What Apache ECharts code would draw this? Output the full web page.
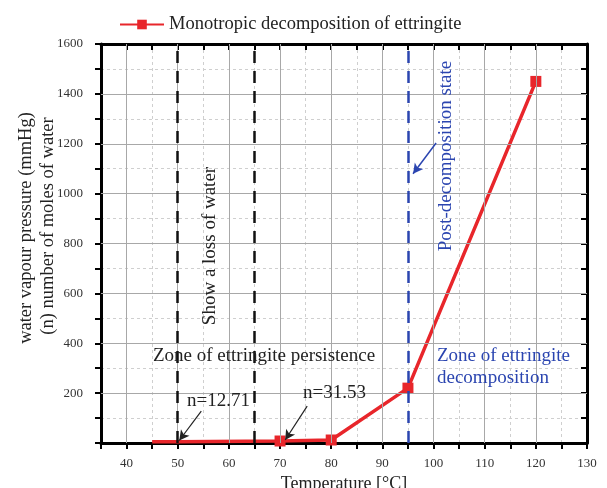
<!DOCTYPE html>
<html>
<head>
<meta charset="utf-8">
<script src="https://cdn.jsdelivr.net/npm/echarts@6/dist/echarts.min.js"></script>
<style>
  html, body { margin: 0; padding: 0; background: #fff; }
  #chart { width: 607px; height: 488px; }
</style>
</head>
<body>
<div id="chart"></div>
<script>
// Temperature (°C) and water vapour pressure (mmHg) of ettringite decomposition
const temperatures = [45, 50, 70, 80, 95, 120];
const pressures = [5, 5, 8, 12, 220, 1450];
const markerShown = [false, false, true, true, true, true];

// Axis tick values
const xMajorTicks = [40, 50, 60, 70, 80, 90, 100, 110, 120];
const yMajorTicks = [200, 400, 600, 800, 1000, 1200, 1400];

// Zone boundaries (°C)
const persistenceBounds = [50, 65];
const decompositionBound = 95;

// Annotation arrows: [from, to] in data units
const blackArrows = [
  [[54.6, 128], [50.3, 10]],
  [[75.3, 148], [71.0, 12]]
];
const blueArrows = [
  [[100.5, 1203], [96.0, 1080]]
];

const FONT = '"Liberation Serif", "Times New Roman", serif';
const BLUE = '#2b45b0';
const RED = '#e8262b';

const chart = echarts.init(document.getElementById('chart'));

const option = {
  animation: false,
  backgroundColor: '#fff',
  textStyle: { fontFamily: FONT },
  grid: { left: 101, right: 20, top: 44, bottom: 45, outerBoundsMode: 'none', containLabel: false },
  legend: {
    data: ['Monotropic decomposition of ettringite'],
    left: 114, top: 10,
    itemWidth: 44, itemHeight: 12, itemGap: 4,
    textStyle: { fontFamily: FONT, fontSize: 18.5, color: '#222' }
  },
  xAxis: [{
    type: 'value', min: 35, max: 130, interval: 5,
    name: 'Temperature [°C]', nameLocation: 'middle', nameGap: 22,
    nameTextStyle: { fontFamily: FONT, fontSize: 18, color: '#222' },
    axisLine: { onZero: false, lineStyle: { color: '#000', width: 3 } },
    axisTick: { length: 6, lineStyle: { color: '#000', width: 2 } },
    axisLabel: {
      fontFamily: FONT, fontSize: 13, color: '#333', margin: 14,
      formatter: v => (v % 10 === 0 ? String(v) : '')
    },
    splitLine: { show: true, lineStyle: { color: '#cfcfcf', type: [3, 3], width: 1 } }
  }, {
    type: 'value', min: 35, max: 130, interval: 5, position: 'top',
    axisLine: { onZero: false, lineStyle: { color: '#000', width: 3 } },
    axisTick: { inside: true, length: 6, lineStyle: { color: '#000', width: 2 } },
    axisLabel: { show: false },
    splitLine: { show: false }
  }],
  yAxis: [{
    type: 'value', min: 0, max: 1600, interval: 100,
    axisLine: { onZero: false, lineStyle: { color: '#000', width: 3 } },
    axisTick: { length: 6, lineStyle: { color: '#000', width: 2 } },
    axisLabel: {
      fontFamily: FONT, fontSize: 13, color: '#333', margin: 18,
      formatter: v => (v % 200 === 0 && v > 0 ? String(v) : '')
    },
    splitLine: { show: true, lineStyle: { color: '#cfcfcf', type: [3, 3], width: 1 } }
  }, {
    type: 'value', min: 0, max: 1600, interval: 100, position: 'right',
    axisLine: { onZero: false, lineStyle: { color: '#000', width: 3 } },
    axisTick: { inside: true, length: 6, lineStyle: { color: '#000', width: 2 } },
    axisLabel: { show: false },
    splitLine: { show: false }
  }],
  series: [
    {
      // solid major grid lines
      name: 'grid', type: 'line', data: [], silent: true, z: 1,
      markLine: {
        silent: true, symbol: 'none', animation: false,
        label: { show: false },
        lineStyle: { color: '#a8a8a8', type: 'solid', width: 1 },
        data: xMajorTicks.map(v => ({ xAxis: v }))
          .concat(yMajorTicks.map(v => ({ yAxis: v })))
      }
    },
    {
      // zone boundaries
      name: 'zones', type: 'line', data: [], silent: true, z: 2,
      markLine: {
        silent: true, symbol: 'none', animation: false,
        label: { show: false },
        data: persistenceBounds.map(v => ({
          xAxis: v, lineStyle: { color: '#111', type: [12, 8], width: 2.5 }
        })).concat([{
          xAxis: decompositionBound, lineStyle: { color: BLUE, type: [12, 8], width: 2.5 }
        }])
      }
    },
    {
      name: 'Monotropic decomposition of ettringite',
      type: 'line', z: 4,
      data: temperatures.map((t, i) => ({
        value: [t, pressures[i]],
        symbol: markerShown[i] ? 'rect' : 'none'
      })),
      symbol: 'rect', symbolSize: 11,
      itemStyle: { color: RED },
      lineStyle: { color: RED, width: 3.5 }
    },
    {
      // annotation arrows
      name: 'arrows', type: 'line', data: [], silent: true, z: 5,
      markLine: {
        silent: true, animation: false,
        symbol: ['none', 'arrow'], symbolSize: [8, 10],
        label: { show: false },
        data: blackArrows.map(a => [
          { coord: a[0], lineStyle: { color: '#222', type: 'solid', width: 1.2 } },
          { coord: a[1] }
        ]).concat(blueArrows.map(a => [
          { coord: a[0], lineStyle: { color: BLUE, type: 'solid', width: 1.5 } },
          { coord: a[1] }
        ]))
      }
    }
  ]
};

chart.setOption(option);

// text annotations
function txt(str, x, y, opts) {
  return {
    type: 'text', z: 10,
    x: x, y: y,
    style: Object.assign({
      text: str, fontFamily: FONT, fontSize: 19, fill: '#222',
      align: 'left', verticalAlign: 'middle'
    }, opts && opts.style || {}),
    rotation: opts && opts.rotation || 0
  };
}
const V = Math.PI / 2;
chart.setOption({
  graphic: [
    txt('water vapour pressure (mmHg)', 26, 228, { rotation: V, style: { align: 'center', fontSize: 18.5 } }),
    txt('(n) number of moles of water', 48, 226, { rotation: V, style: { align: 'center', fontSize: 18.5 } }),
    txt('Show a loss of water', 210, 246, { rotation: V, style: { align: 'center' } }),
    txt('Post-decomposition state', 446, 156, { rotation: V, style: { align: 'center', fill: BLUE } }),
    txt('Zone of ettringite persistence', 153, 356, {}),
    txt('n=12.71', 187, 401, {}),
    txt('n=31.53', 303, 393, {}),
    txt('Zone of ettringite', 437, 356, { style: { fill: BLUE } }),
    txt('decomposition', 437, 378, { style: { fill: BLUE } })
  ]
});
</script>
</body>
</html>
